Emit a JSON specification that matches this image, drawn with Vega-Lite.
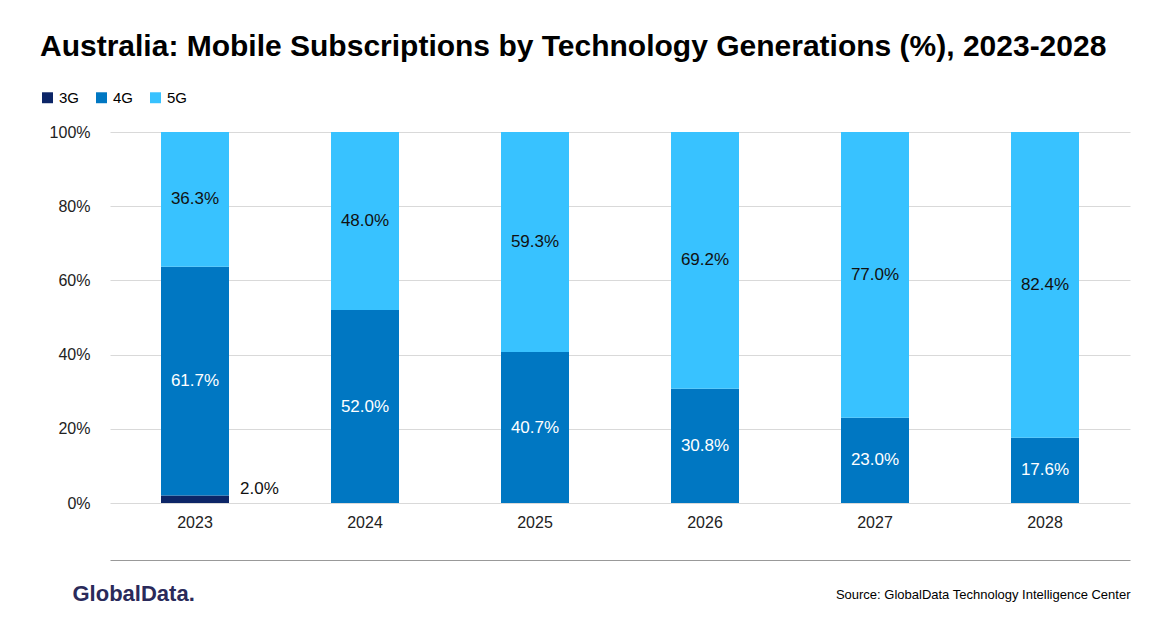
{
  "$schema": "https://vega.github.io/schema/vega-lite/v6.json",
  "width": 1020,
  "height": 371,
  "autosize": "none",
  "padding": {"left": 110, "top": 132, "right": 42, "bottom": 125},
  "background": "white",
  "config": {"font": "Liberation Sans", "view": {"stroke": null}},
  "title": {
    "text": "Australia: Mobile Subscriptions by Technology Generations (%), 2023-2028",
    "anchor": "start", "frame": "group", "dx": -70, "offset": 28,
    "fontSize": 30, "fontWeight": "bold", "color": "#000000", "font": "Liberation Sans"
  },
  "data": {"values": [
    {"year": "2023", "tech": "3G", "ord": 1, "v": 2.0},
    {"year": "2023", "tech": "4G", "ord": 2, "v": 61.7},
    {"year": "2023", "tech": "5G", "ord": 3, "v": 36.3},
    {"year": "2024", "tech": "4G", "ord": 2, "v": 52.0},
    {"year": "2024", "tech": "5G", "ord": 3, "v": 48.0},
    {"year": "2025", "tech": "4G", "ord": 2, "v": 40.7},
    {"year": "2025", "tech": "5G", "ord": 3, "v": 59.3},
    {"year": "2026", "tech": "4G", "ord": 2, "v": 30.8},
    {"year": "2026", "tech": "5G", "ord": 3, "v": 69.2},
    {"year": "2027", "tech": "4G", "ord": 2, "v": 23.0},
    {"year": "2027", "tech": "5G", "ord": 3, "v": 77.0},
    {"year": "2028", "tech": "4G", "ord": 2, "v": 17.6},
    {"year": "2028", "tech": "5G", "ord": 3, "v": 82.4}
  ]},
  "transform": [
    {"stack": "v", "groupby": ["year"], "sort": [{"field": "ord"}], "as": ["v0", "v1"]},
    {"calculate": "(datum.v0 + datum.v1) / 2", "as": "mid"},
    {"calculate": "format(datum.v, '.1f') + '%'", "as": "lbl"}
  ],
  "encoding": {
    "x": {"field": "year", "type": "ordinal",
      "scale": {"paddingInner": 0.6, "paddingOuter": 0.3},
      "axis": {"title": "Source: GlobalData Technology Intelligence Center", "titleAnchor": "end", "titleAlign": "right", "titleX": 1020, "titleY": 28, "titleFontSize": 13, "titleFontWeight": "normal", "titleColor": "#000",
        "labelAngle": 0, "labelFontSize": 16, "labelColor": "#222",
        "ticks": false, "domain": true, "domainColor": "#999", "offset": 57, "labelPadding": -46}}
  },
  "layer": [
    {
      "mark": {"type": "bar"},
      "encoding": {
        "y": {"field": "v0", "type": "quantitative", "scale": {"domain": [0, 100]},
          "axis": {"title": "GlobalData.", "titleAngle": 0, "titleX": -38, "titleY": 473, "titleAlign": "left", "titleFontSize": 22, "titleFontWeight": "bold", "titleColor": "#2a2a5a",
            "values": [0, 20, 40, 60, 80, 100], "labelExpr": "datum.value + '%'", "labelFontSize": 16, "labelColor": "#222", "labelPadding": 20,
            "ticks": false, "domain": false, "gridColor": "#d9d9d9"}},
        "y2": {"field": "v1"},
        "color": {"field": "tech", "type": "nominal",
          "scale": {"domain": ["3G", "4G", "5G"], "range": ["#0c2567", "#0077c2", "#38c2ff"]},
          "legend": {"title": null, "orient": "none", "legendX": -70, "legendY": -42, "direction": "horizontal", "symbolType": "square", "symbolSize": 120, "labelFontSize": 15, "columnPadding": 14}}
      }
    },
    {
      "transform": [{"filter": "datum.tech != '3G'"}],
      "mark": {"type": "text", "fontSize": 17},
      "encoding": {
        "y": {"field": "mid", "type": "quantitative"},
        "text": {"field": "lbl"},
        "color": {"condition": {"test": "datum.tech == '4G'", "value": "white"}, "value": "#111"}
      }
    },
    {
      "transform": [{"filter": "datum.tech == '3G'"}],
      "mark": {"type": "text", "fontSize": 17, "align": "left", "dx": 45, "dy": -10, "color": "#111"},
      "encoding": {
        "y": {"field": "mid", "type": "quantitative"},
        "text": {"field": "lbl"}
      }
    }
  ]
}
